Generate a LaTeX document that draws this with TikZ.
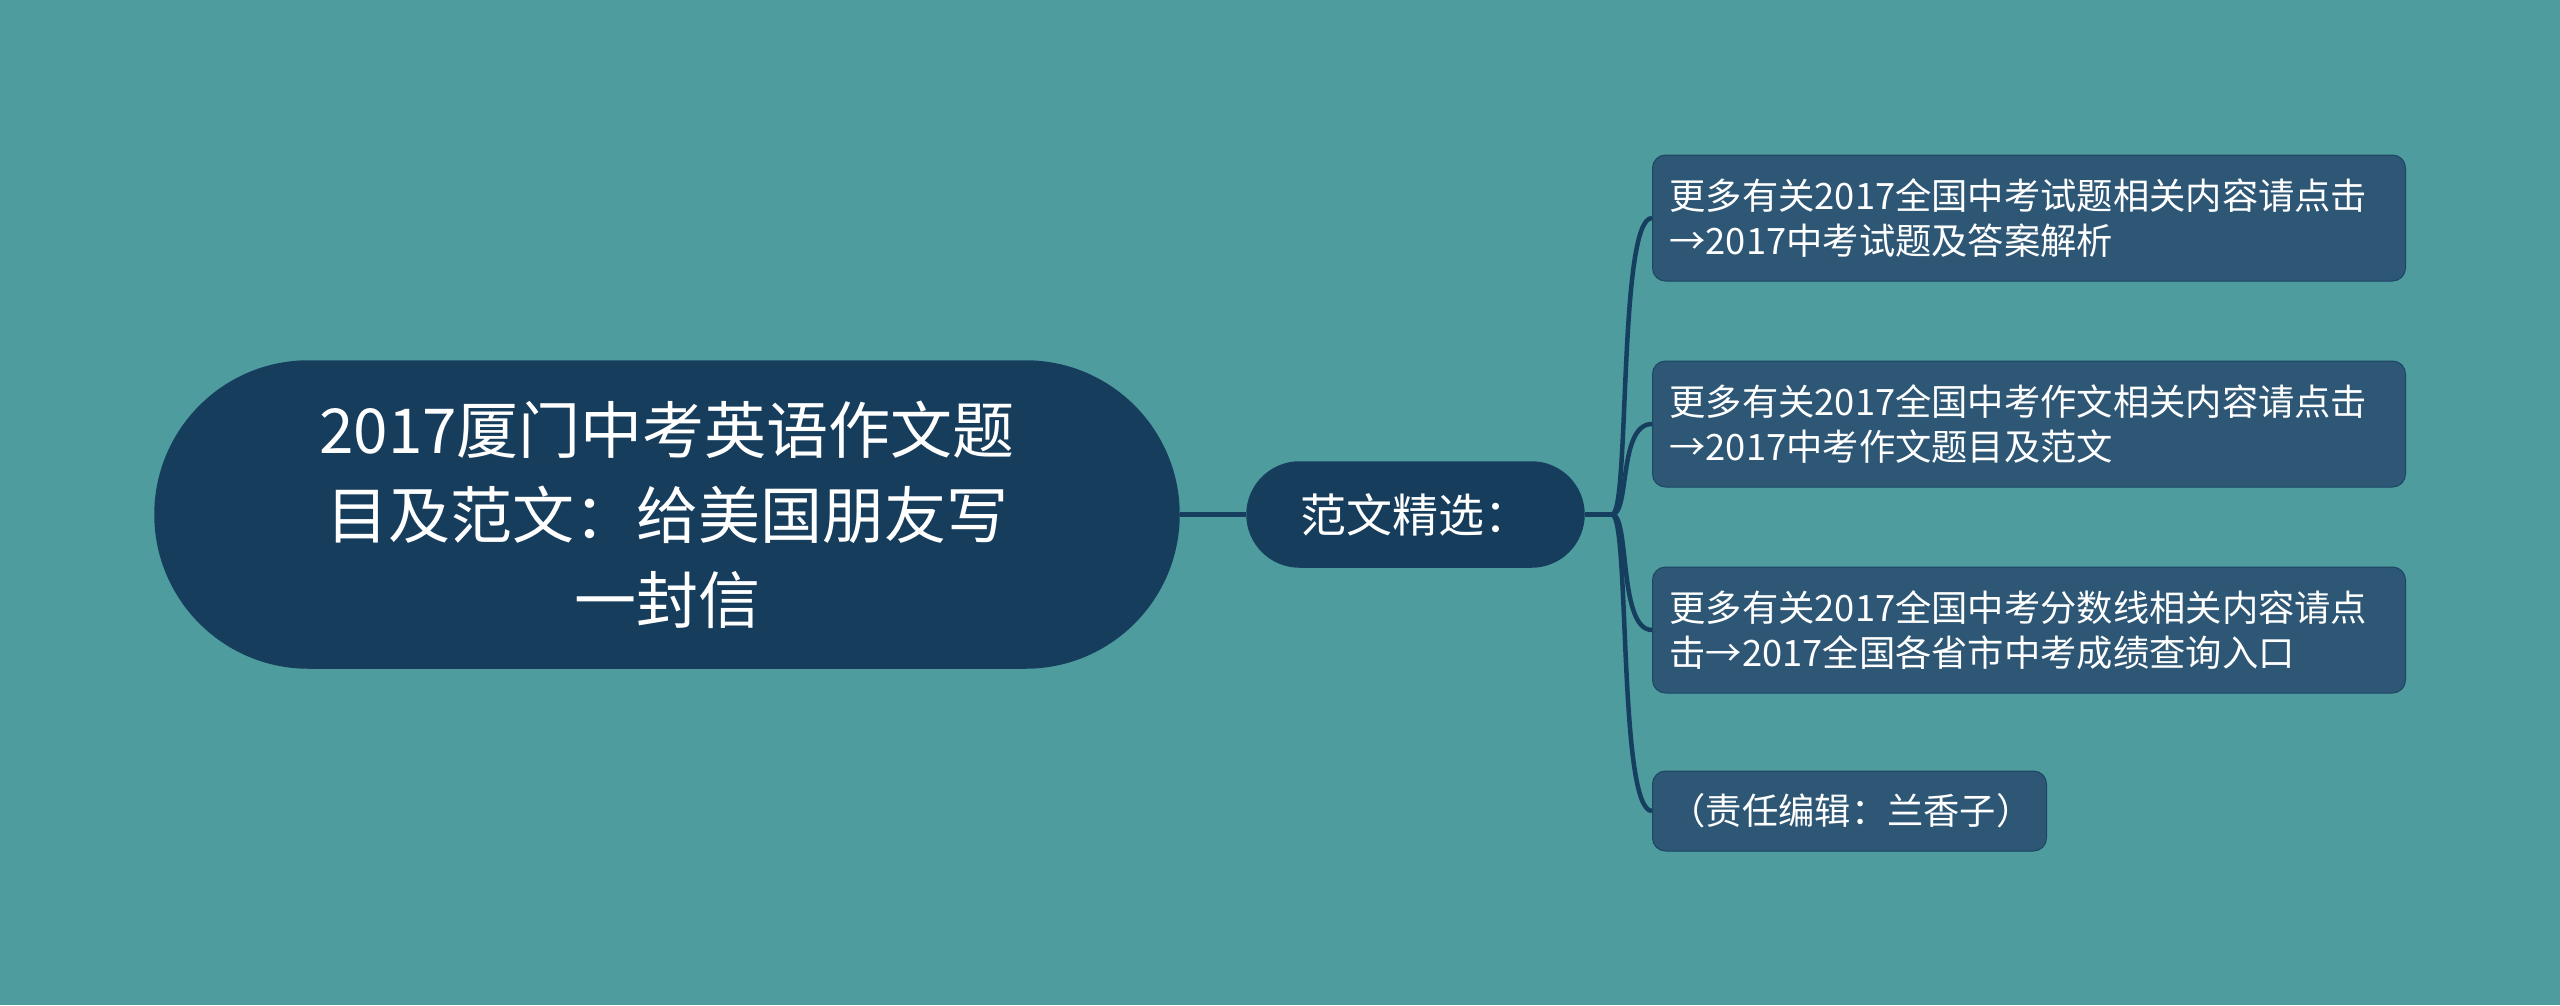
\documentclass[tikz,border=0pt]{standalone}
\usepackage{fontspec}
\newfontfamily\cjk{Noto Sans CJK SC}
\usetikzlibrary{shapes.misc}
\definecolor{bgc}{RGB}{78,156,157}
\definecolor{rootc}{RGB}{23,61,92}
\definecolor{childc}{RGB}{46,87,118}
\definecolor{linec}{RGB}{22,62,94}
\tikzset{
  rootbox/.style={rounded rectangle, fill=rootc, draw=linec, line width=1.5pt, text=white,
    minimum width=1024pt, minimum height=307pt, align=center, inner sep=0pt,
    font=\cjk\fontsize{62}{85}\selectfont},
  midbox/.style={rounded rectangle, fill=rootc, draw=linec, line width=1.5pt, text=white,
    minimum width=337pt, minimum height=105pt, align=center, inner sep=0pt,
    font=\cjk\fontsize{46}{50}\selectfont},
  leafbox/.style={rectangle, rounded corners=13pt, fill=childc, draw=linec!70!childc, line width=1pt,
    text=white, anchor=west, align=left, inner xsep=17pt, inner ysep=0pt,
    minimum height=126pt, text width=719pt,
    font=\cjk\fontsize{36.3}{45}\selectfont},
  conn/.style={draw=linec, line width=4.5pt},
}
\begin{document}
\begin{tikzpicture}[x=1pt,y=-1pt]
\fill[bgc] (0,0) rectangle (2560,1005);
\useasboundingbox (0,0) rectangle (2560,1005);
\node[rootbox] (root) at (667,514.5) {2017厦门中考英语作文题\\目及范文：给美国朋友写\\一封信};
\node[midbox] (mid) at (1415.5,514.5) {范文精选：};
\node[leafbox] (c1) at (1652,218) {更多有关2017全国中考试题相关内容请点击\\→2017中考试题及答案解析};
\node[leafbox] (c2) at (1652,424) {更多有关2017全国中考作文相关内容请点击\\→2017中考作文题目及范文};
\node[leafbox] (c3) at (1652,630) {更多有关2017全国中考分数线相关内容请点\\击→2017全国各省市中考成绩查询入口};
\node[leafbox, text width=360pt, minimum height=80pt] (c4) at (1652,811) {（责任编辑：兰香子）};
\coordinate (j) at (1612,514.5);
\draw[conn] (root.east) -- (mid.west);
\draw[conn] (mid.east) -- (j);
\foreach \c in {c1,c2,c3,c4}{
  \draw[conn] (j) .. controls (1630,514.5) and (1618,0 |- \c.west) .. (\c.west);
}
\end{tikzpicture}
\end{document}
